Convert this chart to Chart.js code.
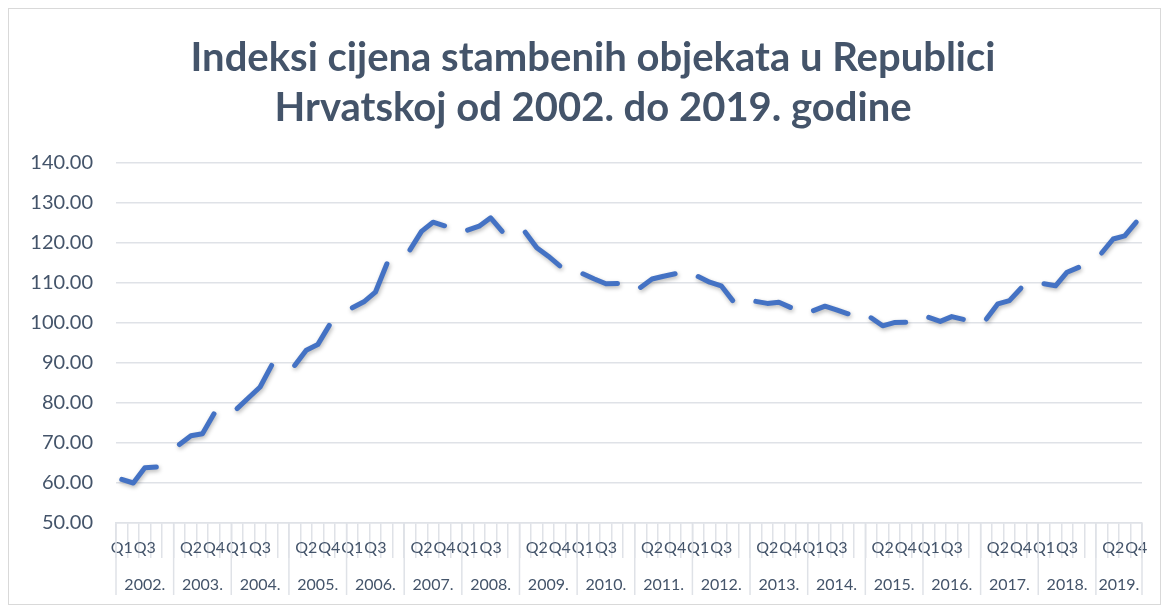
<!DOCTYPE html>
<html>
<head>
<meta charset="utf-8">
<title>Indeksi cijena stambenih objekata</title>
<script src="https://cdn.jsdelivr.net/npm/chart.js@4.4.0/dist/chart.umd.min.js"></script>
<style>
  html, body { margin: 0; padding: 0; background: #fff; }
</style>
</head>
<body>
<canvas id="hpi" width="1169" height="606"></canvas>
<script>
const years = ['2002.', '2003.', '2004.', '2005.', '2006.', '2007.', '2008.', '2009.', '2010.',
  '2011.', '2012.', '2013.', '2014.', '2015.', '2016.', '2017.', '2018.', '2019.'];
const quarters = ['Q1', 'Q2', 'Q3', 'Q4'];
const titleLines = ['Indeksi cijena stambenih objekata u Republici', 'Hrvatskoj od 2002. do 2019. godine'];
// index by quarter, one row per year
const priceIndex = [
  60.9, 60.0, 63.8, 64.0,     // 2002
  69.6, 71.8, 72.3, 77.3,     // 2003
  78.6, 81.3, 84.0, 89.4,     // 2004
  89.4, 93.2, 94.6, 99.4,     // 2005
  103.8, 105.3, 107.7, 114.8, // 2006
  118.3, 122.9, 125.2, 124.3, // 2007
  123.2, 124.2, 126.3, 122.9, // 2008
  122.7, 118.8, 116.7, 114.3, // 2009
  112.3, 111.0, 109.8, 109.9, // 2010
  108.9, 111.0, 111.7, 112.3, // 2011
  111.6, 110.2, 109.3, 105.6, // 2012
  105.4, 104.9, 105.2, 103.9, // 2013
  103.1, 104.2, 103.3, 102.3, // 2014
  101.3, 99.3, 100.1, 100.2,  // 2015
  101.4, 100.4, 101.6, 100.9, // 2016
  101.0, 104.8, 105.6, 108.7, // 2017
  109.8, 109.3, 112.7, 113.9, // 2018
  117.5, 121.0, 121.8, 125.2  // 2019
];

const textColor = '#44546A';
const gridColor = '#dfe2e7';

// excel layout: every year is 4 quarters + one empty slot (except the last one)
let labels = [];
let values = [];
let yearStart = [];
years.forEach((yr, y) => {
  yearStart.push(labels.length);
  quarters.forEach((q, qi) => {
    labels.push(q);
    values.push(priceIndex[y * 4 + qi]);
  });
  if (y < years.length - 1) {
    labels.push('');
    values.push(null);
  }
});

const chartFrame = {
  id: 'chartFrame',
  beforeDraw(chart) {
    const ctx = chart.ctx;
    ctx.save();
    ctx.fillStyle = '#fff';
    ctx.fillRect(0, 0, chart.width, chart.height);
    ctx.strokeStyle = '#d9d9d9';
    ctx.lineWidth = 1;
    ctx.strokeRect(8.5, 8.5, 1152, 596);
    ctx.restore();
  },
  // title sits a bit right of the canvas centre, like in the excel export
  afterDraw(chart) {
    const ctx = chart.ctx;
    ctx.save();
    ctx.fillStyle = textColor;
    ctx.font = 'bold 40px Lato';
    ctx.textAlign = 'center';
    ctx.textBaseline = 'alphabetic';
    ctx.fillText(titleLines[0], 593, 71);
    ctx.fillText(titleLines[1], 593, 121);
    ctx.restore();
  }
};

const lineShadow = {
  id: 'lineShadow',
  beforeDatasetsDraw(chart) {
    const ctx = chart.ctx;
    ctx.save();
    ctx.shadowColor = 'rgba(0, 0, 0, 0.28)';
    ctx.shadowBlur = 4;
    ctx.shadowOffsetX = 1;
    ctx.shadowOffsetY = 2;
  },
  afterDatasetsDraw(chart) {
    chart.ctx.restore();
  }
};

// second level of the category axis: years + long separators
const yearAxis = {
  id: 'yearAxis',
  afterDraw(chart) {
    const ctx = chart.ctx;
    const xs = chart.scales.x;
    const half = (xs.getPixelForValue(1) - xs.getPixelForValue(0)) / 2;
    const top = chart.chartArea.bottom;
    ctx.save();
    ctx.strokeStyle = gridColor;
    ctx.lineWidth = 1.5;
    ctx.fillStyle = textColor;
    ctx.font = '16px Lato';
    ctx.textAlign = 'center';
    ctx.textBaseline = 'middle';
    years.forEach((yr, y) => {
      const left = xs.getPixelForValue(yearStart[y]) - half;
      const right = xs.getPixelForValue(yearStart[y] + 3) + half;
      const end = y < years.length - 1 ? xs.getPixelForValue(yearStart[y] + 4) + half : right;
      ctx.beginPath();
      ctx.moveTo(left, top);
      ctx.lineTo(left, top + 72);
      ctx.stroke();
      if (y === years.length - 1) {
        ctx.beginPath();
        ctx.moveTo(end, top);
        ctx.lineTo(end, top + 72);
        ctx.stroke();
      }
      ctx.fillText(yr, (left + end) / 2, top + 62);
    });
    ctx.restore();
  }
};

const ctx = document.getElementById('hpi');
const hpiChart = new Chart(ctx, {
  type: 'line',
  data: {
    labels: labels,
    datasets: [{
      data: values,
      borderColor: '#4472C4',
      borderWidth: 5,
      borderCapStyle: 'round',
      borderJoinStyle: 'round',
      pointRadius: 0,
      tension: 0,
      spanGaps: false
    }]
  },
  options: {
    responsive: false,
    devicePixelRatio: 1,
    animation: false,
    layout: { padding: { left: 10, right: 27, top: 163, bottom: 0 } },
    plugins: {
      legend: { display: false },
      tooltip: { enabled: false },
      title: { display: false }
    },
    scales: {
      x: {
        type: 'category',
        offset: true,
        grid: {
          offset: true,
          drawOnChartArea: false,
          drawTicks: true,
          tickLength: 35,
          color: gridColor,
          lineWidth: 1.5
        },
        border: { display: true, color: gridColor, width: 1.5 },
        ticks: {
          autoSkip: false,
          maxRotation: 0,
          padding: -20,
          color: textColor,
          font: { family: 'Lato', size: 16 },
          callback: function (val, i) { return i % 2 === 0 ? labels[i] : ''; }
        },
        afterFit: function (scale) { scale.height = 83; }
      },
      y: {
        min: 50,
        max: 140,
        grid: { color: gridColor, lineWidth: 1.5, drawTicks: false },
        border: { display: false },
        ticks: {
          stepSize: 10,
          padding: 23,
          color: textColor,
          font: { family: 'Lato', size: 20 },
          callback: function (v) { return v.toFixed(2); }
        },
        afterFit: function (scale) { scale.width = 106; }
      }
    }
  },
  plugins: [chartFrame, lineShadow, yearAxis]
});
</script>
</body>
</html>
